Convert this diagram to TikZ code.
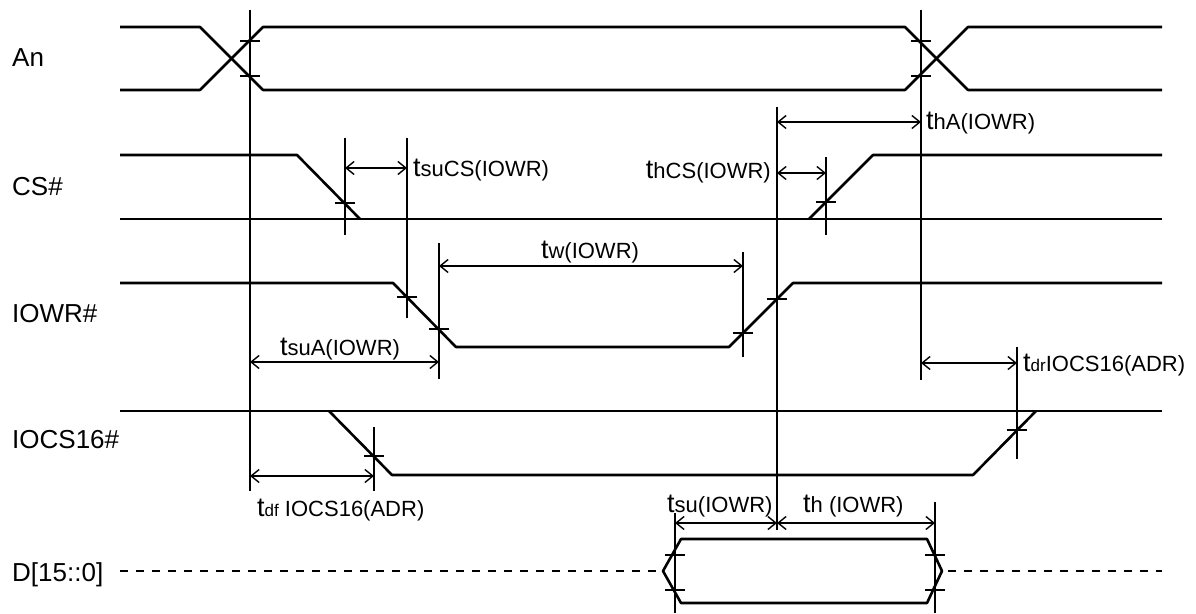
\documentclass[tikz,border=0pt]{standalone}
\usepackage{fontspec}
\setmainfont{Liberation Sans}
\usetikzlibrary{arrows.meta}

\newcommand{\bigt}{{\fontsize{27}{27}\selectfont t}}
\newcommand{\subtxt}[1]{{\fontsize{17}{17}\selectfont #1}}

\begin{document}
\begin{tikzpicture}[x=1pt,y=-1pt,
	sig/.style={BLACK, solid, line join=round, line width=2.6},
	vline/.style={BLACK, solid, line width=1.8},
	tickmark/.style={BLACK, solid, line width=1.8},
	dim/.style={BLACK, solid, line width=1.4,
		{Straight Barb[length=8pt,width=13pt]}-{Straight Barb[length=8pt,width=13pt]}},
	sigName/.style={font=\fontsize{26}{28}\selectfont, BLACK, anchor=base west, inner sep=0},
	timeName/.style={font=\fontsize{22}{24}\selectfont, BLACK, inner sep=0}]
	\definecolor{BLACK}{RGB}{0,0,0}
	\definecolor{WHITE}{RGB}{255,255,255}
	\useasboundingbox[fill=WHITE] (0,0) rectangle (1196,613);

	% signal names
	\node[sigName] (An) at (12,66.5) {An};
	\node[sigName] (CS) at (12,195.5) {CS\#};
	\node[sigName] (IOWR) at (12,322) {IOWR\#};
	\node[sigName] (IOCS) at (12,448) {IOCS16\#};
	\node[sigName] (D) at (12,581.5) {D[15::0]};

	% waveforms
	\draw[sig] (120,27) -- (200,27) -- (263,90) -- (905,90) -- (968,27) -- (1162,27);
	\draw[sig] (120,90) -- (200,90) -- (263,27) -- (905,27) -- (968,90) -- (1162,90);
	\draw[sig] (120,155) -- (297,155) -- (360,219);
	\draw[sig] (809,219) -- (873,155) -- (1162,155);
	\draw[sig] (120,219) -- (1162,219);
	\draw[sig] (120,283) -- (393,283) -- (456,347) -- (729,347) -- (793,283) -- (1162,283);
	\draw[sig] (120,411) -- (1162,411);
	\draw[sig] (329,411) -- (392,475) -- (973,475) -- (1036,411);
	\draw[sig, dash pattern=on 8pt off 8pt] (120,571) -- (663,571);
	\draw[sig, dash pattern=on 8pt off 8pt] (948,571) -- (1162,571);
	\draw[sig] (663,571) -- (681,539) -- (927,539) -- (942,571) -- (927,603) -- (681,603) -- cycle;

	% reference lines
	\draw[vline] (250,10) -- (250,491);
	\draw[vline] (921,10) -- (921,380);
	\draw[vline] (345,138) -- (345,235);
	\draw[vline] (407,138) -- (407,318);
	\draw[vline] (439,243) -- (439,379);
	\draw[vline] (743,252) -- (743,357);
	\draw[vline, line width=1.3] (777,107) -- (777,530);
	\draw[vline] (826,157) -- (826,235);
	\draw[vline] (1017,347) -- (1017,459);
	\draw[vline] (374,427) -- (374,491);
	\draw[vline] (675,513) -- (675,613);
	\draw[vline] (935,502) -- (935,613);

	% crossing marks
	\draw[tickmark] (240,41) -- (260,41);
	\draw[tickmark] (240,76) -- (260,76);
	\draw[tickmark] (911,41) -- (931,41);
	\draw[tickmark] (911,76) -- (931,76);
	\draw[tickmark] (335,203) -- (355,203);
	\draw[tickmark] (816,202) -- (836,202);
	\draw[tickmark] (397,297) -- (417,297);
	\draw[tickmark] (429,329) -- (449,329);
	\draw[tickmark] (733,333) -- (753,333);
	\draw[tickmark] (767,299) -- (787,299);
	\draw[tickmark] (364,456) -- (384,456);
	\draw[tickmark] (1007,430) -- (1027,430);
	\draw[tickmark] (665,555) -- (685,555);
	\draw[tickmark] (665,590) -- (685,590);
	\draw[tickmark] (925,555) -- (945,555);
	\draw[tickmark] (925,590) -- (945,590);

	% timing arrows
	\coordinate (suCS-l) at (345,168);
	\coordinate (suCS-r) at (407,168);
	\coordinate (hCS-l) at (777,173);
	\coordinate (hCS-r) at (826,173);
	\coordinate (hA-l) at (777,122);
	\coordinate (hA-r) at (921,122);
	\coordinate (w-l) at (439,266);
	\coordinate (w-r) at (743,266);
	\coordinate (suA-l) at (250,362);
	\coordinate (suA-r) at (439,362);
	\coordinate (dr-l) at (921,363);
	\coordinate (dr-r) at (1017,363);
	\coordinate (df-l) at (250,476);
	\coordinate (df-r) at (374,476);
	\coordinate (su-l) at (675,523);
	\coordinate (su-r) at (777,523);
	\coordinate (h-r) at (935,523);
	\draw[dim] (suCS-l) -- (suCS-r);
	\draw[dim] (hCS-l) -- (hCS-r);
	\draw[dim] (hA-l) -- (hA-r);
	\draw[dim] (w-l) -- (w-r);
	\draw[dim] (suA-l) -- (suA-r);
	\draw[dim] (dr-l) -- (dr-r);
	\draw[dim] (df-l) -- (df-r);
	\draw[dim] (su-l) -- (su-r);
	\draw[dim] (su-r) -- (h-r);

	% timing names
	\node[timeName, anchor=base west] (tsuCS) at (413,176) {\bigt suCS(IOWR)};
	\node[timeName, anchor=base east] (thCS) at (771,178) {\bigt hCS(IOWR)};
	\node[timeName, anchor=base west] (thA) at (926,129) {\bigt hA(IOWR)};
	\node[timeName, anchor=base] (tw) at (590,258) {\bigt w(IOWR)};
	\node[timeName, anchor=base] (tsuA) at (340,355) {\bigt suA(IOWR)};
	\node[timeName, anchor=base west] (tdr) at (1023,371) {\bigt\subtxt{dr}IOCS16(ADR)};
	\node[timeName, anchor=base west] (tdf) at (257,516) {\bigt\subtxt{df} IOCS16(ADR)};
	\node[timeName, anchor=base west] (tsu) at (667,512) {\bigt su(IOWR)};
	\node[timeName, anchor=base west] (th) at (803,512) {\bigt h (IOWR)};
\end{tikzpicture}
\end{document}
